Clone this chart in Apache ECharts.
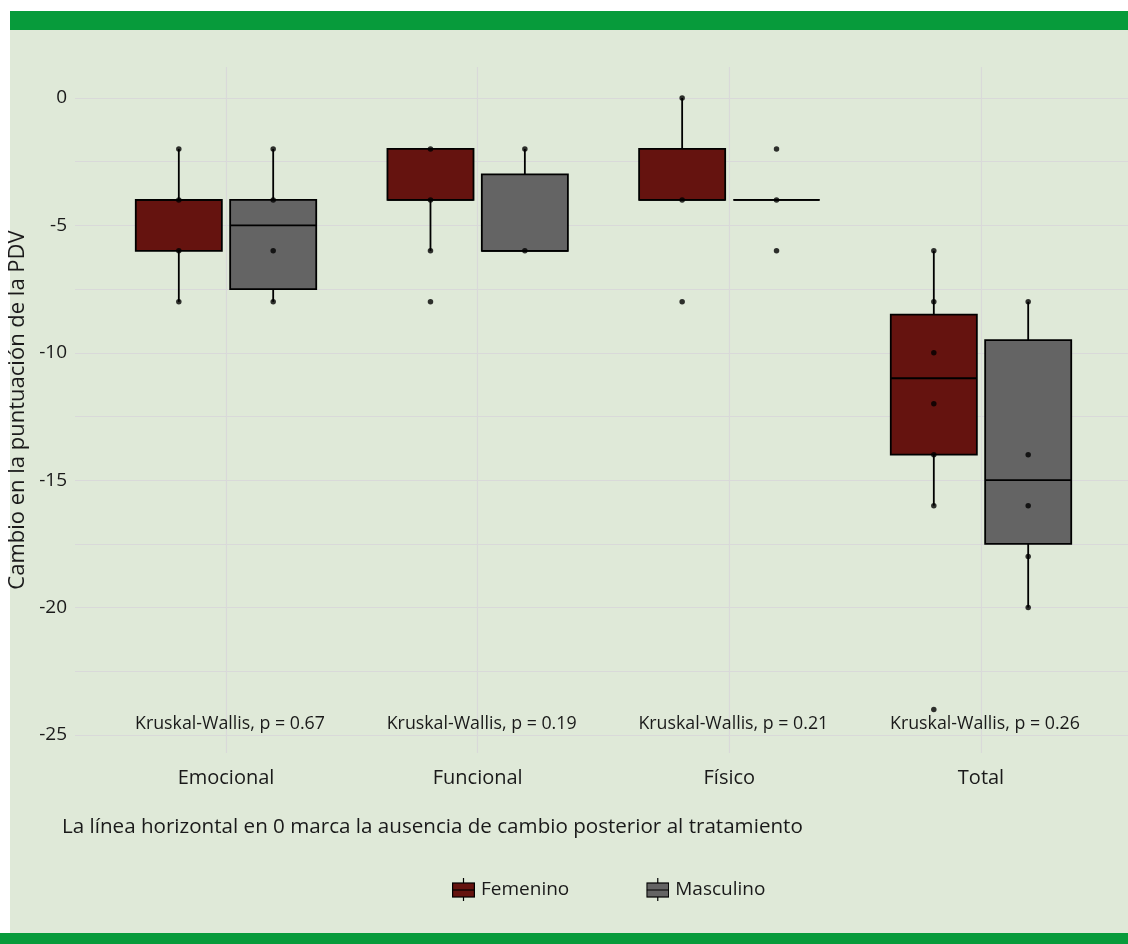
<!DOCTYPE html>
<html>
<head>
<meta charset="utf-8">
<style>
  html, body { margin: 0; padding: 0; background: #ffffff; }
  #chart { width: 1128px; height: 944px; }
</style>
<script src="https://cdn.jsdelivr.net/npm/echarts@6/dist/echarts.min.js"></script>
</head>
<body>
<div id="chart"></div>
<script>
// ---------------- data ----------------
const categories = ['Emocional', 'Funcional', 'Físico', 'Total'];
const groups = ['Femenino', 'Masculino'];
// box stats per category: [lower whisker, Q1, median, Q3, upper whisker]
const femeninoBox = [[-8, -6, -4, -4, -2], [-6, -4, -4, -2, -2], [-4, -4, -4, -2, 0], [-16, -14, -11, -8.5, -6]];
const masculinoBox = [[-8, -7.5, -5, -4, -2], [-6, -6, -6, -3, -2], [-4, -4, -4, -4, -4], [-20, -17.5, -15, -9.5, -8]];
// individual observations (visible points)
const femeninoPoints = [[-2, -4, -6, -8], [-2, -4, -6, -8], [0, -4, -8], [-6, -8, -10, -12, -14, -16, -24]];
const masculinoPoints = [[-2, -4, -6, -8], [-2, -6], [-2, -4, -6], [-8, -14, -16, -18, -20]];
const pValues = ['0.67', '0.19', '0.21', '0.26'];
const annotationY = -25;
const yTicks = [0, -5, -10, -15, -20, -25];
const caption = 'La línea horizontal en 0 marca la ausencia de cambio posterior al tratamiento';
const yTitle = 'Cambio en la puntuación de la PDV';

// ---------------- style ----------------
const FONT = 'Open Sans';
const TEXT = '#1a1a1a';
const GRID = '#d9d9d9';
const BG = '#dfe9d8';
const GREEN = '#079b3b';
const COLORS = { Femenino: '#65130f', Masculino: '#646464' };
const DODGE = 0.1875;   // half of dodge width (0.75 / 4)
const HALF = 0.171;     // half box width in axis units

// gridlines: majors at ticks, minors halfway between
const majorLines = yTicks.slice();
const minorLines = [];
for (let i = 0; i < yTicks.length - 1; i++) minorLines.push((yTicks[i] + yTicks[i + 1]) / 2);

function boxData(stats) {
  return stats.map((s, i) => [i + 1].concat(s));
}
function pointData(points, offset) {
  const out = [];
  points.forEach((arr, i) => arr.forEach(v => out.push([i + 1 + offset, v])));
  return out;
}
function boxRenderer(offset, fill) {
  return function (params, api) {
    const xc = api.value(0) + offset;
    const low = api.value(1), q1 = api.value(2), med = api.value(3), q3 = api.value(4), high = api.value(5);
    const pc = api.coord([xc, 0])[0];
    const pl = api.coord([xc - HALF, 0])[0];
    const pr = api.coord([xc + HALF, 0])[0];
    const yLow = api.coord([xc, low])[1];
    const yQ1 = api.coord([xc, q1])[1];
    const yMed = api.coord([xc, med])[1];
    const yQ3 = api.coord([xc, q3])[1];
    const yHigh = api.coord([xc, high])[1];
    const ls = { stroke: '#000', lineWidth: 1.8 };
    return {
      type: 'group',
      children: [
        { type: 'line', shape: { x1: pc, y1: yHigh, x2: pc, y2: yQ3 }, style: ls },
        { type: 'line', shape: { x1: pc, y1: yQ1, x2: pc, y2: yLow }, style: ls },
        { type: 'rect', shape: { x: pl, y: yQ3, width: pr - pl, height: yQ1 - yQ3 },
          style: { fill: fill, stroke: '#000', lineWidth: 1.8 } },
        { type: 'line', shape: { x1: pl, y1: yMed, x2: pr, y2: yMed }, style: ls }
      ]
    };
  };
}
function legendIcon(fill) {
  const svg = '<svg xmlns="http://www.w3.org/2000/svg" width="23" height="23" viewBox="0 0 23 23">' +
    '<line x1="11.5" y1="0" x2="11.5" y2="23" stroke="#000" stroke-width="1.2"/>' +
    '<rect x="0.6" y="5" width="21.8" height="14" fill="' + fill + '" stroke="#000" stroke-width="1.2"/>' +
    '<line x1="0.6" y1="12" x2="22.4" y2="12" stroke="#000" stroke-width="1.2"/>' +
    '</svg>';
  return 'image://data:image/svg+xml;charset=utf-8,' + encodeURIComponent(svg);
}

const chart = echarts.init(document.getElementById('chart'), null, { renderer: 'canvas' });

const option = {
  backgroundColor: '#ffffff',
  animation: false,
  textStyle: { fontFamily: FONT },
  graphic: [
    { type: 'rect', z: -10, silent: true, shape: { x: 10, y: 30, width: 1118, height: 903 }, style: { fill: BG } },
    { type: 'rect', z: -10, silent: true, shape: { x: 10, y: 11, width: 1118, height: 19 }, style: { fill: GREEN } },
    { type: 'rect', z: -10, silent: true, shape: { x: 0, y: 933, width: 1128, height: 11 }, style: { fill: GREEN } }
  ],
  title: {
    text: caption,
    left: 57,
    top: 812,
    textStyle: { fontFamily: FONT, fontSize: 20.6, fontWeight: 'normal', color: TEXT }
  },
  legend: {
    data: groups.map(g => ({ name: g, icon: legendIcon(COLORS[g]) })),
    left: 447,
    top: 873,
    itemWidth: 23,
    itemHeight: 23,
    itemGap: 77,
    textStyle: { fontFamily: FONT, fontSize: 19, color: TEXT, padding: [0, 0, 0, 1] },
    selectedMode: false
  },
  grid: { left: 75, top: 67, width: 1057, height: 686, containLabel: false, outerBoundsMode: 'none' },
  xAxis: {
    type: 'value',
    min: 0.4,
    max: 4.6,
    axisLine: { show: false },
    axisTick: { show: false },
    splitLine: { show: false },
    axisLabel: {
      customValues: [1, 2, 3, 4],
      formatter: v => categories[Math.round(v) - 1] || '',
      fontFamily: FONT,
      fontSize: 20,
      color: TEXT,
      margin: 15
    }
  },
  yAxis: {
    type: 'value',
    min: -25.71,
    max: 1.217,
    name: yTitle,
    nameLocation: 'middle',
    nameGap: 40,
    nameRotate: 90,
    nameTextStyle: { fontFamily: FONT, fontSize: 22, color: TEXT },
    axisLine: { show: false },
    axisTick: { show: false },
    splitLine: { show: false },
    axisLabel: {
      customValues: yTicks,
      fontFamily: FONT,
      fontSize: 19,
      color: TEXT,
      margin: 8
    }
  },
  series: [
    {
      type: 'custom',
      name: 'gridlines',
      silent: true,
      z: 0,
      data: [],
      renderItem: () => null,
      markLine: {
        silent: true,
        z: 0,
        symbol: ['none', 'none'],
        label: { show: false },
        animation: false,
        lineStyle: { color: GRID, width: 1.2, type: 'solid' },
        data: majorLines.concat(minorLines).map(v => ({ yAxis: v }))
          .concat([1, 2, 3, 4].map(v => ({ xAxis: v })))
      }
    },
    {
      type: 'custom',
      name: 'Femenino',
      z: 10,
      itemStyle: { color: COLORS.Femenino },
      encode: { x: 0, y: [1, 2, 3, 4, 5] },
      data: boxData(femeninoBox),
      renderItem: boxRenderer(-DODGE, COLORS.Femenino)
    },
    {
      type: 'custom',
      name: 'Masculino',
      z: 10,
      itemStyle: { color: COLORS.Masculino },
      encode: { x: 0, y: [1, 2, 3, 4, 5] },
      data: boxData(masculinoBox),
      renderItem: boxRenderer(DODGE, COLORS.Masculino)
    },
    {
      type: 'scatter',
      name: 'puntos',
      z: 12,
      symbolSize: 5.5,
      itemStyle: { color: '#000' },
      data: pointData(femeninoPoints, -DODGE).concat(pointData(masculinoPoints, DODGE))
    },
    {
      type: 'custom',
      name: 'kruskal',
      z: 12,
      silent: true,
      data: pValues.map((p, i) => [i + 1, annotationY]),
      renderItem: function (params, api) {
        const pt = api.coord([api.value(0), api.value(1)]);
        return {
          type: 'text',
          style: {
            text: 'Kruskal-Wallis, p = ' + pValues[params.dataIndex],
            x: pt[0] + 4,
            y: pt[1] - 11,
            align: 'center',
            verticalAlign: 'middle',
            fontFamily: FONT,
            fontSize: 17.8,
            fill: TEXT
          }
        };
      }
    }
  ]
};
chart.setOption(option);
</script>
</body>
</html>
